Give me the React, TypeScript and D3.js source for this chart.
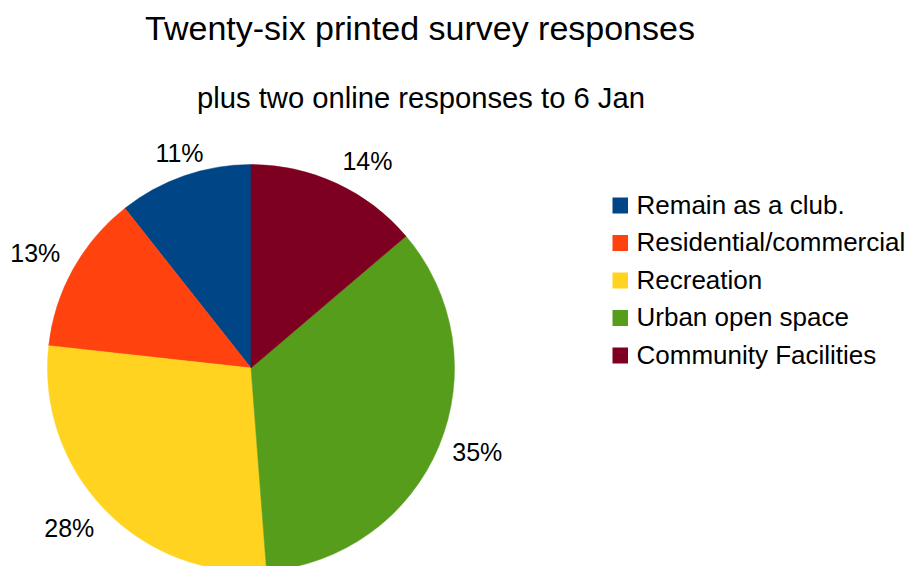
import * as d3 from 'd3'

const categories = [
  'Remain as a club.',
  'Residential/commercial',
  'Recreation',
  'Urban open space',
  'Community Facilities',
]
const values = [10.64, 12.61, 27.97, 35.0, 13.78]
const colors = ['#004586', '#ff420e', '#ffd320', '#579d1c', '#7e0021']

const title = 'Twenty-six printed survey responses'
const subtitle = 'plus two online responses to 6 Jan'

const width = 907
const height = 566
const cx = 251
const cy = 368
const radius = 203.5
const font = '"Liberation Sans", Arial, sans-serif'

export default function App() {
  const total = d3.sum(values)
  // LibreOffice draws counter-clockwise from 12 o'clock
  const pie = d3.pie<number>().sort(null).startAngle(0).endAngle(-2 * Math.PI)
  const arcs = pie(values)
  const arc = d3.arc<d3.PieArcDatum<number>>().innerRadius(0).outerRadius(radius)

  const labelSize = 25
  const labelRadius = radius + 14.5
  const legendY = d3.scalePoint<string>().domain(categories).range([205.5, 355.5])

  return (
    <svg
      width={width}
      height={height}
      style={{ position: 'absolute', left: 0, top: 0, background: '#fff' }}
      fontFamily={font}
    >
      <text x={420} y={40} textAnchor="middle" fontSize={34} fill="#000">{title}</text>
      <text x={421} y={108} textAnchor="middle" fontSize={29.2} fill="#000">{subtitle}</text>

      <g transform={`translate(${cx},${cy})`}>
        {arcs.map((a, i) => (
          <path key={i} d={arc(a) ?? ''} fill={colors[i]} stroke={colors[i]} strokeWidth={0.5} />
        ))}
        {arcs.map((a, i) => {
          const mid = (a.startAngle + a.endAngle) / 2
          const s = Math.sin(mid)
          const c = Math.cos(mid)
          const label = `${Math.round((a.value / total) * 100)}%`
          const hw = label.length * 0.667 * labelSize / 2
          const hh = 0.716 * labelSize / 2
          // anchor point on the ring, then push the box outward (8-way alignment)
          const px = s * labelRadius
          const py = -c * labelRadius
          const dx = Math.abs(s) < 0.4 ? 0 : Math.sign(s) * hw
          const dy = Math.abs(c) < 0.4 ? 0 : -Math.sign(c) * hh
          return (
            <text key={i} x={px + dx} y={py + dy + hh} textAnchor="middle" fontSize={labelSize} fill="#000">
              {label}
            </text>
          )
        })}
      </g>

      <g>
        {categories.map((name, i) => {
          const y = legendY(name) ?? 0
          return (
            <g key={name}>
              <rect x={612.5} y={y - 8} width={15.5} height={16} fill={colors[i]} />
              <text x={636.5} y={y + 8} fontSize={26} fill="#000">{name}</text>
            </g>
          )
        })}
      </g>
    </svg>
  )
}
